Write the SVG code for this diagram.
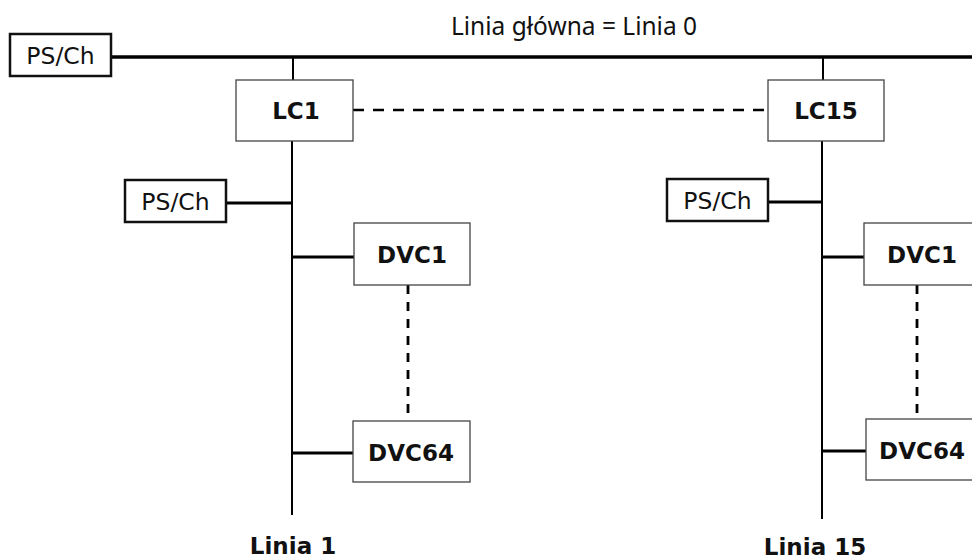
<svg xmlns="http://www.w3.org/2000/svg" width="972" height="559" viewBox="0 0 972 559">
<style>
.ps{fill:#fff;stroke:#111;stroke-width:2.5}
.bx{fill:#fff;stroke:#444;stroke-width:1.3}
.t{font-family:"DejaVu Sans",Verdana,sans-serif;font-size:23.5px;fill:#111;text-anchor:middle}
.b{font-weight:bold;font-size:23px}
.ttl{font-family:"Noto Sans","Open Sans",sans-serif;font-size:24.5px;fill:#111;text-anchor:middle}
</style>
<rect width="972" height="559" fill="#fff"/>
<text class="ttl" x="574" y="35">Linia główna = Linia 0</text>
<g id="connectors" fill="none" stroke="#000">
<line x1="111" y1="57" x2="972" y2="57" stroke-width="3.5"/>
<line x1="293" y1="57" x2="293" y2="80" stroke-width="2"/>
<line x1="823" y1="57" x2="823" y2="80" stroke-width="2"/>
<line x1="292" y1="141" x2="292" y2="515" stroke-width="2"/>
<line x1="822" y1="141" x2="822" y2="519" stroke-width="2"/>
<line x1="226" y1="203" x2="292" y2="203" stroke-width="3"/>
<line x1="292" y1="257" x2="354" y2="257" stroke-width="3"/>
<line x1="292" y1="453" x2="353" y2="453" stroke-width="3"/>
<line x1="768" y1="202" x2="822" y2="202" stroke-width="3"/>
<line x1="822" y1="257" x2="864" y2="257" stroke-width="3"/>
<line x1="822" y1="451" x2="866" y2="451" stroke-width="3"/>
<line x1="353" y1="110" x2="768" y2="110" stroke-width="2.5" stroke-dasharray="11 9"/>
<line x1="408" y1="285" x2="408" y2="421" stroke-width="2.8" stroke-dasharray="9 8"/>
<line x1="917" y1="285" x2="917" y2="419" stroke-width="2.8" stroke-dasharray="9 8"/>
</g>
<g id="ps0"><rect class="ps" x="10" y="34" width="101" height="42"/><text class="t" x="60.5" y="63.5">PS/Ch</text></g>
<g id="lc1"><rect class="bx" x="236" y="80" width="117" height="61"/><text class="t b" x="296" y="119">LC1</text></g>
<g id="lc15"><rect class="bx" x="768" y="80" width="116" height="61"/><text class="t b" x="826" y="119">LC15</text></g>
<g id="ps1"><rect class="ps" x="125" y="180" width="101" height="42"/><text class="t" x="175.5" y="209.5">PS/Ch</text></g>
<g id="ps15"><rect class="ps" x="667" y="179" width="101" height="42"/><text class="t" x="717.5" y="208.5">PS/Ch</text></g>
<g id="dvc1-1"><rect class="bx" x="354" y="223" width="116" height="62"/><text class="t b" x="412" y="263">DVC1</text></g>
<g id="dvc64-1"><rect class="bx" x="353" y="421" width="117" height="61"/><text class="t b" x="411" y="461">DVC64</text></g>
<g id="dvc1-15"><rect class="bx" x="864" y="223" width="116" height="62"/><text class="t b" x="922" y="263">DVC1</text></g>
<g id="dvc64-15"><rect class="bx" x="866" y="419" width="116" height="61"/><text class="t b" x="922" y="459">DVC64</text></g>
<text class="t b" x="293" y="554">Linia 1</text>
<text class="t b" x="815" y="555">Linia 15</text>
</svg>
